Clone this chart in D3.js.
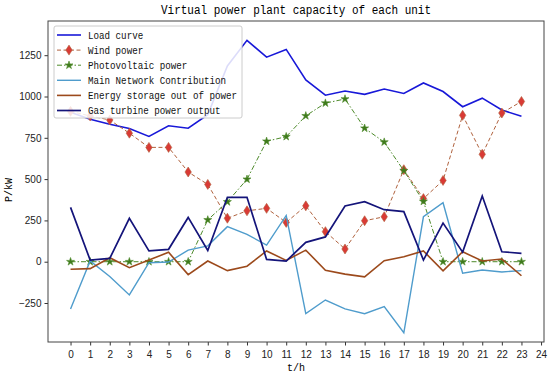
<!DOCTYPE html>
<meta charset="utf-8">
<script src="https://d3js.org/d3.v7.min.js"></script>
<head>
<style>
  body { margin: 0; background: #fff; }
</style>
</head>
<body>
<div id="my_dataviz"></div>
<script>
        // hours 0..23
        var hours = d3.range(0, 24);
        var xTicks = d3.range(0, 25);
        var yTicks = [-250, 0, 250, 500, 750, 1000, 1250];

        var seriesNames = ["Load curve", "Wind power", "Photovoltaic power",
                           "Main Network Contribution", "Energy storage out of power",
                           "Gas turbine power output"];

        var load    = [905, 862, 832, 806, 758, 823, 808, 890, 1185, 1340, 1238, 1285,
                       1100, 1008, 1033, 1013, 1045, 1018, 1082, 1030, 938, 990, 918, 880];
        var wind    = [910, 882, 858, 778, 692, 692, 543, 468, 263, 308, 323, 238,
                       338, 182, 77, 248, 272, 557, 382, 492, 886, 650, 900, 970];
        var pv      = [0, 0, 0, 0, 0, 0, 0, 253, 362, 499, 729, 757,
                       883, 960, 985, 808, 724, 551, 365, 0, 0, 0, 0, 0];
        var mainNet = [-286, 5, -90, -201, -6, -2, 70, 96, 212, 165, 101, 280,
                       -314, -232, -286, -315, -272, -430, 272, 357, -70, -50, -62, -54];
        var storage = [-46, -42, 24, -36, 10, 57, -78, 4, -54, -27, 65, 8,
                       70, -52, -75, -92, 6, 30, 65, -55, 60, 4, 16, -85];
        var gas     = [329, 10, 20, 263, 65, 75, 268, 68, 390, 390, 14, 4,
                       117, 150, 337, 363, 315, 303, 10, 234, 58, 398, 60, 51];

        var W = 550, H = 376;
        var margin = {top: 21, right: 6, bottom: 34, left: 48},
            width = W - margin.left - margin.right,
            height = H - margin.top - margin.bottom;

        var svg = d3.select("#my_dataviz")
          .append("svg")
            .attr("width", W)
            .attr("height", H)
            .style("font-family", "'Liberation Sans', Arial, sans-serif");

        var g = svg.append("g")
            .attr("transform", "translate(" + margin.left + "," + margin.top + ")");

        var x = d3.scaleLinear().domain([-1.15, 24.15]).range([0, width]);
        var y = d3.scaleLinear().domain([-486, 1457]).range([height, 0]);

        // title
        svg.append("text")
          .attr("x", 296)
          .attr("y", 14)
          .attr("text-anchor", "middle")
          .style("font-family", "'Liberation Mono', 'DejaVu Sans Mono', monospace")
          .style("font-size", "12.5px")
          .attr("textLength", 270)
          .attr("lengthAdjust", "spacingAndGlyphs")
          .text("Virtual power plant capacity of each unit");

        // axes
        var xAxis = g.append("g")
          .attr("transform", "translate(0," + height + ")")
          .call(d3.axisBottom(x).tickValues(xTicks).tickFormat(d3.format("d")).tickSizeOuter(0).tickSize(3.5));
        var yAxis = g.append("g")
          .call(d3.axisLeft(y).tickValues(yTicks).tickFormat(d3.format("d")).tickSizeOuter(0).tickSize(3.5));
        [xAxis, yAxis].forEach(function (a) {
          a.select(".domain").remove();
          a.selectAll("line").attr("stroke", "#333");
          a.selectAll("text").style("font-size", "10px").attr("fill", "#222");
        });
        xAxis.selectAll("text").attr("dy", "0.95em");

        // frame
        g.append("rect")
          .attr("width", width).attr("height", height)
          .attr("fill", "none").attr("stroke", "#444").attr("stroke-width", 1);

        // axis labels
        svg.append("text")
          .attr("x", 296).attr("y", 371)
          .attr("text-anchor", "middle")
          .style("font-family", "'Liberation Mono', monospace")
          .style("font-size", "10px")
          .text("t/h");
        svg.append("text")
          .attr("transform", "translate(12,190) rotate(-90)")
          .attr("text-anchor", "middle")
          .style("font-family", "'Liberation Mono', monospace")
          .style("font-size", "10px")
          .text("P/kW");

        var line = d3.line()
          .x(function (d, i) { return x(hours[i]); })
          .y(function (d) { return y(d); });

        var styles = [
          {data: load,    color: "#1818d8", width: 1.6, dash: null},
          {data: wind,    color: "#b0623e", width: 1,   dash: "4,2.5", marker: "diamond", fill: "#d93a35"},
          {data: pv,      color: "#4d8a2a", width: 1,   dash: "5,2,1.5,2", marker: "star", fill: "#3f7a1c"},
          {data: mainNet, color: "#4f9ccc", width: 1.4, dash: null},
          {data: storage, color: "#9c4a1c", width: 1.6, dash: null},
          {data: gas,     color: "#14147a", width: 1.7, dash: null}
        ];

        var diamond = "M0,-5L3.2,0L0,5L-3.2,0Z";
        var star = d3.symbol().type(d3.symbolStar).size(20)();

        styles.forEach(function (s) {
          g.append("path")
            .datum(s.data)
            .attr("fill", "none")
            .attr("stroke", s.color)
            .attr("stroke-width", s.width)
            .attr("stroke-dasharray", s.dash)
            .attr("d", line);
          if (s.marker) {
            g.append("g").selectAll("path")
              .data(s.data)
              .enter()
              .append("path")
                .attr("transform", function (d, i) { return "translate(" + x(hours[i]) + "," + y(d) + ")"; })
                .attr("d", s.marker === "diamond" ? diamond : star)
                .attr("fill", s.fill)
                .attr("stroke", s.color)
                .attr("stroke-width", 0.6);
          }
        });

        // legend
        var lg = svg.append("g").attr("transform", "translate(54,26)");
        lg.append("rect")
          .attr("width", 188).attr("height", 92)
          .attr("rx", 2)
          .attr("fill", "#fff").attr("fill-opacity", 0.85)
          .attr("stroke", "#ccc");
        styles.forEach(function (s, i) {
          var yy = 9 + i * 15.1;
          lg.append("line")
            .attr("x1", 3).attr("x2", 27).attr("y1", yy).attr("y2", yy)
            .attr("stroke", s.color).attr("stroke-width", s.width)
            .attr("stroke-dasharray", s.dash);
          if (s.marker) {
            lg.append("path")
              .attr("transform", "translate(15," + yy + ")")
              .attr("d", s.marker === "diamond" ? diamond : star)
              .attr("fill", s.fill).attr("stroke", s.color).attr("stroke-width", 0.6);
          }
          lg.append("text")
            .attr("x", 34).attr("y", yy + 3.5)
            .style("font-family", "'Liberation Mono', 'DejaVu Sans Mono', monospace")
            .style("font-size", "11px")
            .attr("textLength", seriesNames[i].length * 5.52)
            .attr("lengthAdjust", "spacingAndGlyphs")
            .attr("fill", "#111")
            .text(seriesNames[i]);
        });
</script>
</body>
